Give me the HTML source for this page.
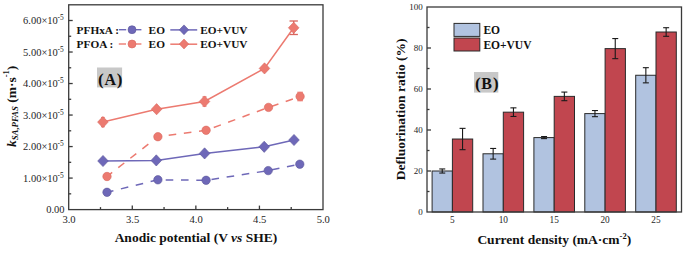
<!DOCTYPE html>
<html><head><meta charset="utf-8"><style>
html,body{margin:0;padding:0;background:#fff;}
body{width:685px;height:253px;overflow:hidden;font-family:"Liberation Serif", serif;}
svg{display:block;}
</style></head><body>
<svg width="685" height="253" viewBox="0 0 685 253">
<rect width="685" height="253" fill="#fff"/>
<g fill="none" stroke="#3a3a3a" stroke-width="1.3">
<rect x="68.7" y="4.8" width="254.30" height="204.80"/>
<line x1="68.7" y1="193.84" x2="71.2" y2="193.84"/>
<line x1="68.7" y1="178.08" x2="72.7" y2="178.08"/>
<line x1="68.7" y1="162.32" x2="71.2" y2="162.32"/>
<line x1="68.7" y1="146.57" x2="72.7" y2="146.57"/>
<line x1="68.7" y1="130.81" x2="71.2" y2="130.81"/>
<line x1="68.7" y1="115.05" x2="72.7" y2="115.05"/>
<line x1="68.7" y1="99.29" x2="71.2" y2="99.29"/>
<line x1="68.7" y1="83.53" x2="72.7" y2="83.53"/>
<line x1="68.7" y1="67.78" x2="71.2" y2="67.78"/>
<line x1="68.7" y1="52.02" x2="72.7" y2="52.02"/>
<line x1="68.7" y1="36.26" x2="71.2" y2="36.26"/>
<line x1="68.7" y1="20.50" x2="72.7" y2="20.50"/>
<line x1="100.49" y1="209.6" x2="100.49" y2="207.1"/>
<line x1="132.28" y1="209.6" x2="132.28" y2="205.6"/>
<line x1="164.06" y1="209.6" x2="164.06" y2="207.1"/>
<line x1="195.85" y1="209.6" x2="195.85" y2="205.6"/>
<line x1="227.64" y1="209.6" x2="227.64" y2="207.1"/>
<line x1="259.43" y1="209.6" x2="259.43" y2="205.6"/>
<line x1="291.21" y1="209.6" x2="291.21" y2="207.1"/>
</g>
<g font-family='"Liberation Serif", serif' font-size="10.5" fill="#1e1e1e" text-anchor="end">
<text x="64.5" y="213.40">0.00</text>
<text x="57.8" y="181.88">1.00×10</text>
<text x="57.6" y="177.78" font-size="7.4" text-anchor="start">-5</text>
<text x="57.8" y="150.37">2.00×10</text>
<text x="57.6" y="146.27" font-size="7.4" text-anchor="start">-5</text>
<text x="57.8" y="118.85">3.00×10</text>
<text x="57.6" y="114.75" font-size="7.4" text-anchor="start">-5</text>
<text x="57.8" y="87.33">4.00×10</text>
<text x="57.6" y="83.23" font-size="7.4" text-anchor="start">-5</text>
<text x="57.8" y="55.82">5.00×10</text>
<text x="57.6" y="51.72" font-size="7.4" text-anchor="start">-5</text>
<text x="57.8" y="24.30">6.00×10</text>
<text x="57.6" y="20.20" font-size="7.4" text-anchor="start">-5</text>
</g>
<g font-family='"Liberation Serif", serif' font-size="10.6" fill="#1e1e1e" text-anchor="middle">
<text x="69.00" y="222.7">3.0</text>
<text x="132.58" y="222.7">3.5</text>
<text x="196.15" y="222.7">4.0</text>
<text x="259.73" y="222.7">4.5</text>
<text x="323.30" y="222.7">5.0</text>
</g>
<text x="195.9" y="242.1" font-family='"Liberation Serif", serif' font-size="13.5" font-weight="bold" fill="#111" text-anchor="middle">Anodic potential (V <tspan font-style="italic">vs</tspan> SHE)</text>
<text transform="translate(15.8,106.4) rotate(-90)" font-family='"Liberation Serif", serif' font-size="13.5" font-weight="bold" fill="#111" text-anchor="middle"><tspan font-style="italic">k</tspan><tspan font-size="8.8" font-style="italic" dy="2.5">SA,PFAS</tspan><tspan dy="-2.5"> (m·s</tspan><tspan font-size="8.5" dy="-6.5">-1</tspan><tspan dy="6.5">)</tspan></text>
<polyline points="107.0,176.5 157.9,136.7 206.1,130.3 268.5,107.4 300.1,96.5" fill="none" stroke="#ec7a70" stroke-width="1.5" stroke-dasharray="7.6,7.7" stroke-dashoffset="1"/>
<polyline points="107.0,192.3 157.9,179.8 206.1,180.3 268.2,170.6 299.8,164.2" fill="none" stroke="#6e68b8" stroke-width="1.5" stroke-dasharray="7.6,7.7" stroke-dashoffset="1"/>
<polyline points="102.9,122.1 156.6,109.2 204.5,101.5 264.5,68.4 293.7,27.8" fill="none" stroke="#ec7a70" stroke-width="1.5"/>
<polyline points="103.0,161.0 156.3,160.4 204.6,153.4 264.2,146.8 294.0,140.0" fill="none" stroke="#6e68b8" stroke-width="1.5"/>
<g stroke="#d9665e" stroke-width="1.3"><line x1="293.7" y1="21" x2="293.7" y2="34.5"/><line x1="289.5" y1="21" x2="297.9" y2="21"/><line x1="289.5" y1="34.5" x2="297.9" y2="34.5"/></g>
<g stroke="#ec7a70" stroke-width="1.2"><line x1="102.9" y1="117.5" x2="102.9" y2="126.7"/><line x1="101.1" y1="117.5" x2="104.7" y2="117.5"/><line x1="101.1" y1="126.7" x2="104.7" y2="126.7"/></g>
<g stroke="#ec7a70" stroke-width="1.2"><line x1="204.5" y1="96.9" x2="204.5" y2="106.1"/><line x1="202.5" y1="96.9" x2="206.5" y2="96.9"/><line x1="202.5" y1="106.1" x2="206.5" y2="106.1"/></g>
<path d="M102.9,116.5 L108.2,122.1 L102.9,127.7 L97.6,122.1 Z" fill="#ec7a70" stroke="#d9665e" stroke-width="0.6"/>
<path d="M156.6,103.6 L161.9,109.2 L156.6,114.8 L151.3,109.2 Z" fill="#ec7a70" stroke="#d9665e" stroke-width="0.6"/>
<path d="M204.5,95.9 L209.8,101.5 L204.5,107.1 L199.2,101.5 Z" fill="#ec7a70" stroke="#d9665e" stroke-width="0.6"/>
<path d="M264.5,62.8 L269.8,68.4 L264.5,74.0 L259.2,68.4 Z" fill="#ec7a70" stroke="#d9665e" stroke-width="0.6"/>
<path d="M293.7,22.2 L299.0,27.8 L293.7,33.4 L288.4,27.8 Z" fill="#ec7a70" stroke="#d9665e" stroke-width="0.6"/>
<path d="M103.0,155.4 L108.3,161.0 L103.0,166.6 L97.7,161.0 Z" fill="#6e68b8" stroke="#5b5599" stroke-width="0.6"/>
<path d="M156.3,154.8 L161.6,160.4 L156.3,166.0 L151.0,160.4 Z" fill="#6e68b8" stroke="#5b5599" stroke-width="0.6"/>
<path d="M204.6,147.8 L209.9,153.4 L204.6,159.0 L199.3,153.4 Z" fill="#6e68b8" stroke="#5b5599" stroke-width="0.6"/>
<path d="M264.2,141.2 L269.5,146.8 L264.2,152.4 L258.9,146.8 Z" fill="#6e68b8" stroke="#5b5599" stroke-width="0.6"/>
<path d="M294.0,134.4 L299.3,140.0 L294.0,145.6 L288.7,140.0 Z" fill="#6e68b8" stroke="#5b5599" stroke-width="0.6"/>
<circle cx="107.0" cy="176.5" r="4.2" fill="#ec7a70" stroke="#d9665e" stroke-width="0.6"/>
<circle cx="157.9" cy="136.7" r="4.2" fill="#ec7a70" stroke="#d9665e" stroke-width="0.6"/>
<circle cx="206.1" cy="130.3" r="4.2" fill="#ec7a70" stroke="#d9665e" stroke-width="0.6"/>
<circle cx="268.5" cy="107.4" r="4.2" fill="#ec7a70" stroke="#d9665e" stroke-width="0.6"/>
<circle cx="300.1" cy="96.5" r="4.2" fill="#ec7a70" stroke="#d9665e" stroke-width="0.6"/>
<g stroke="#ec7a70" stroke-width="1.2"><line x1="300.1" y1="92.3" x2="300.1" y2="100.7"/><line x1="297.3" y1="92.3" x2="302.9" y2="92.3"/><line x1="297.3" y1="100.7" x2="302.9" y2="100.7"/></g>
<circle cx="107.0" cy="192.3" r="4.2" fill="#6e68b8" stroke="#5b5599" stroke-width="0.6"/>
<circle cx="157.9" cy="179.8" r="4.2" fill="#6e68b8" stroke="#5b5599" stroke-width="0.6"/>
<circle cx="206.1" cy="180.3" r="4.2" fill="#6e68b8" stroke="#5b5599" stroke-width="0.6"/>
<circle cx="268.2" cy="170.6" r="4.2" fill="#6e68b8" stroke="#5b5599" stroke-width="0.6"/>
<circle cx="299.8" cy="164.2" r="4.2" fill="#6e68b8" stroke="#5b5599" stroke-width="0.6"/>
<g font-family='"Liberation Serif", serif' font-size="11.3" font-weight="bold" fill="#111">
<text x="76.6" y="33.6">PFHxA :</text>
<text x="76.6" y="48.0">PFOA :</text>
<text x="148.6" y="33.6">EO</text>
<text x="148.6" y="48.0">EO</text>
<text x="200.3" y="33.6">EO+VUV</text>
<text x="200.3" y="48.0">EO+VUV</text>
</g>
<line x1="119" y1="29.7" x2="126.2" y2="29.7" stroke="#6e68b8" stroke-width="1.4"/>
<line x1="135" y1="29.7" x2="141.4" y2="29.7" stroke="#6e68b8" stroke-width="1.4"/>
<circle cx="132.0" cy="29.7" r="4.0" fill="#6e68b8" stroke="#5b5599" stroke-width="0.6"/>
<line x1="118.8" y1="44.0" x2="126" y2="44.0" stroke="#ec7a70" stroke-width="1.4"/>
<line x1="135" y1="44.0" x2="141.4" y2="44.0" stroke="#ec7a70" stroke-width="1.4"/>
<circle cx="132.0" cy="44.0" r="4.0" fill="#ec7a70" stroke="#d9665e" stroke-width="0.6"/>
<line x1="170.3" y1="29.9" x2="197.2" y2="29.9" stroke="#6e68b8" stroke-width="1.5"/>
<path d="M184.0,24.9 L188.7,29.8 L184.0,34.7 L179.3,29.8 Z" fill="#6e68b8" stroke="#5b5599" stroke-width="0.6"/>
<line x1="170.3" y1="44.2" x2="197.2" y2="44.2" stroke="#ec7a70" stroke-width="1.5"/>
<path d="M184.0,39.1 L188.7,44.0 L184.0,48.9 L179.3,44.0 Z" fill="#ec7a70" stroke="#d9665e" stroke-width="0.6"/>
<rect x="97" y="67.5" width="25.1" height="19.9" fill="#c8c8c8"/>
<g font-family='"Liberation Serif", serif' font-weight="bold" fill="#111">
<text x="98.0" y="84.6" font-size="17">(</text>
<text x="110.3" y="84.6" font-size="16" text-anchor="middle">A</text>
<text x="122.3" y="84.6" font-size="17" text-anchor="end">)</text>
</g>
<rect x="432.10" y="171.00" width="20.3" height="41.00" fill="#b1c3e0" stroke="#2a2a2a" stroke-width="1"/>
<g stroke="#1a1a1a" stroke-width="1.1"><line x1="442.25" y1="168.95" x2="442.25" y2="173.05"/><line x1="439.25" y1="168.95" x2="445.25" y2="168.95"/><line x1="439.25" y1="173.05" x2="445.25" y2="173.05"/></g>
<rect x="452.40" y="139.02" width="20.3" height="72.98" fill="#c1464f" stroke="#2a2a2a" stroke-width="1"/>
<g stroke="#1a1a1a" stroke-width="1.1"><line x1="462.55" y1="128.36" x2="462.55" y2="149.68"/><line x1="459.55" y1="128.36" x2="465.55" y2="128.36"/><line x1="459.55" y1="149.68" x2="465.55" y2="149.68"/></g>
<rect x="483.00" y="153.78" width="20.3" height="58.22" fill="#b1c3e0" stroke="#2a2a2a" stroke-width="1"/>
<g stroke="#1a1a1a" stroke-width="1.1"><line x1="493.15" y1="148.45" x2="493.15" y2="159.11"/><line x1="490.15" y1="148.45" x2="496.15" y2="148.45"/><line x1="490.15" y1="159.11" x2="496.15" y2="159.11"/></g>
<rect x="503.30" y="112.17" width="20.3" height="99.83" fill="#c1464f" stroke="#2a2a2a" stroke-width="1"/>
<g stroke="#1a1a1a" stroke-width="1.1"><line x1="513.45" y1="107.86" x2="513.45" y2="116.47"/><line x1="510.45" y1="107.86" x2="516.45" y2="107.86"/><line x1="510.45" y1="116.47" x2="516.45" y2="116.47"/></g>
<rect x="533.90" y="137.59" width="20.3" height="74.41" fill="#b1c3e0" stroke="#2a2a2a" stroke-width="1"/>
<g stroke="#1a1a1a" stroke-width="1.1"><line x1="544.05" y1="136.56" x2="544.05" y2="138.61"/><line x1="541.05" y1="136.56" x2="547.05" y2="136.56"/><line x1="541.05" y1="138.61" x2="547.05" y2="138.61"/></g>
<rect x="554.20" y="96.38" width="20.3" height="115.62" fill="#c1464f" stroke="#2a2a2a" stroke-width="1"/>
<g stroke="#1a1a1a" stroke-width="1.1"><line x1="564.35" y1="92.08" x2="564.35" y2="100.69"/><line x1="561.35" y1="92.08" x2="567.35" y2="92.08"/><line x1="561.35" y1="100.69" x2="567.35" y2="100.69"/></g>
<rect x="584.80" y="113.60" width="20.3" height="98.40" fill="#b1c3e0" stroke="#2a2a2a" stroke-width="1"/>
<g stroke="#1a1a1a" stroke-width="1.1"><line x1="594.95" y1="110.53" x2="594.95" y2="116.67"/><line x1="591.95" y1="110.53" x2="597.95" y2="110.53"/><line x1="591.95" y1="116.67" x2="597.95" y2="116.67"/></g>
<rect x="605.10" y="48.62" width="20.3" height="163.38" fill="#c1464f" stroke="#2a2a2a" stroke-width="1"/>
<g stroke="#1a1a1a" stroke-width="1.1"><line x1="615.25" y1="38.57" x2="615.25" y2="58.66"/><line x1="612.25" y1="38.57" x2="618.25" y2="38.57"/><line x1="612.25" y1="58.66" x2="618.25" y2="58.66"/></g>
<rect x="635.70" y="75.26" width="20.3" height="136.74" fill="#b1c3e0" stroke="#2a2a2a" stroke-width="1"/>
<g stroke="#1a1a1a" stroke-width="1.1"><line x1="645.85" y1="67.68" x2="645.85" y2="82.85"/><line x1="642.85" y1="67.68" x2="648.85" y2="67.68"/><line x1="642.85" y1="82.85" x2="648.85" y2="82.85"/></g>
<rect x="656.00" y="32.01" width="20.3" height="179.99" fill="#c1464f" stroke="#2a2a2a" stroke-width="1"/>
<g stroke="#1a1a1a" stroke-width="1.1"><line x1="666.15" y1="27.71" x2="666.15" y2="36.31"/><line x1="663.15" y1="27.71" x2="669.15" y2="27.71"/><line x1="663.15" y1="36.31" x2="669.15" y2="36.31"/></g>
<g fill="none" stroke="#3a3a3a" stroke-width="1.3">
<rect x="427.0" y="7.0" width="254.50" height="205.00"/>
<line x1="427.0" y1="191.50" x2="429.5" y2="191.50"/>
<line x1="427.0" y1="171.00" x2="431.0" y2="171.00"/>
<line x1="427.0" y1="150.50" x2="429.5" y2="150.50"/>
<line x1="427.0" y1="130.00" x2="431.0" y2="130.00"/>
<line x1="427.0" y1="109.50" x2="429.5" y2="109.50"/>
<line x1="427.0" y1="89.00" x2="431.0" y2="89.00"/>
<line x1="427.0" y1="68.50" x2="429.5" y2="68.50"/>
<line x1="427.0" y1="48.00" x2="431.0" y2="48.00"/>
<line x1="427.0" y1="27.50" x2="429.5" y2="27.50"/>
</g>
<g font-family='"Liberation Serif", serif' font-size="9" fill="#1e1e1e" text-anchor="end">
<text x="422.8" y="215.40">0</text>
<text x="422.8" y="174.40">20</text>
<text x="422.8" y="133.40">40</text>
<text x="422.8" y="92.40">60</text>
<text x="422.8" y="51.40">80</text>
<text x="422.8" y="10.40">100</text>
</g>
<g font-family='"Liberation Serif", serif' font-size="9.3" fill="#1e1e1e" text-anchor="middle">
<text x="452.40" y="223.4">5</text>
<text x="503.30" y="223.4">10</text>
<text x="554.20" y="223.4">15</text>
<text x="605.10" y="223.4">20</text>
<text x="656.00" y="223.4">25</text>
</g>
<text x="554.3" y="244.4" font-family='"Liberation Serif", serif' font-size="13.5" font-weight="bold" fill="#111" text-anchor="middle">Current density (mA·cm<tspan font-size="8.5" dy="-5">-2</tspan><tspan dy="5">)</tspan></text>
<text transform="translate(405,109.3) rotate(-90)" font-family='"Liberation Serif", serif' font-size="13.5" font-weight="bold" fill="#111" text-anchor="middle">Defluorination ratio (%)</text>
<rect x="454" y="23.4" width="25.8" height="13" fill="#b1c3e0" stroke="#2a2a2a" stroke-width="1"/>
<rect x="454" y="38" width="25.8" height="13" fill="#c1464f" stroke="#2a2a2a" stroke-width="1"/>
<g font-family='"Liberation Serif", serif' font-size="11.5" font-weight="bold" fill="#111">
<text x="483.4" y="34">EO</text>
<text x="483.4" y="48.8">EO+VUV</text>
</g>
<rect x="474" y="72" width="24.3" height="20.6" fill="#c8c8c8"/>
<g font-family='"Liberation Serif", serif' font-weight="bold" fill="#111">
<text x="474.9" y="88.8" font-size="17">(</text>
<text x="486.6" y="88.8" font-size="16" text-anchor="middle">B</text>
<text x="498.7" y="88.8" font-size="17" text-anchor="end">)</text>
</g>
</svg>
</body></html>
